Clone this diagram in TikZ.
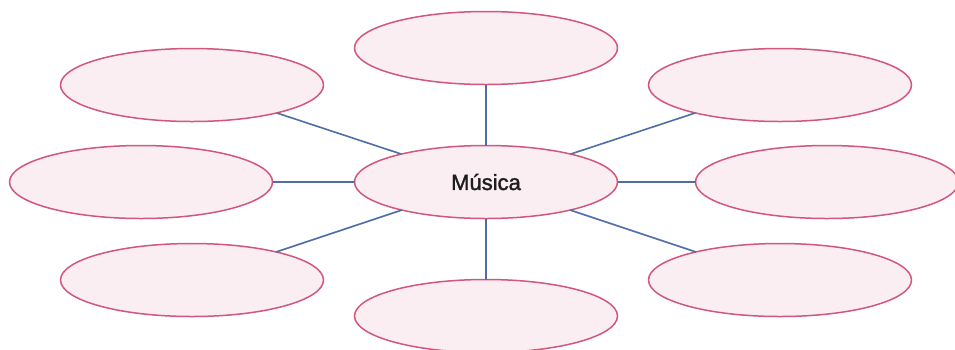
\documentclass[tikz,border=0pt]{standalone}
\usepackage{fontspec}
\setmainfont{Liberation Sans}
\newfontfamily\medfont[FakeBold=1.6]{Liberation Sans}
\usetikzlibrary{shapes.geometric}
\definecolor{ringred}{HTML}{D2577A}
\definecolor{ringfill}{HTML}{FBEEF2}
\definecolor{linkblue}{HTML}{4F6EA8}
\tikzset{
  bubble/.style={ellipse, draw=ringred, fill=ringfill, line width=1.5pt,
    minimum width=263pt, minimum height=73pt, inner sep=0pt, outer sep=0pt},
  link/.style={draw=linkblue, line width=1.6pt}
}
\begin{document}
\begin{tikzpicture}[x=1pt,y=-1pt]
\useasboundingbox (0,0) rectangle (955,349);
\fill[white] (0,0) rectangle (955,349);
\node[bubble] (c) at (486,182) {\medfont\fontsize{22}{24}\selectfont\color[HTML]{1E1E1E}Música};
\node[bubble] (t) at (486,48) {};
\node[bubble] (b) at (486,316) {};
\node[bubble] (tl) at (192,85) {};
\node[bubble] (l) at (141,182) {};
\node[bubble] (bl) at (192,280) {};
\node[bubble] (tr) at (780,85) {};
\node[bubble] (r) at (827,182) {};
\node[bubble] (br) at (780,280) {};
\draw[link] (c) -- (t);
\draw[link] (c) -- (b);
\draw[link] (c) -- (tl);
\draw[link] (c) -- (l);
\draw[link] (c) -- (bl);
\draw[link] (c) -- (tr);
\draw[link] (c) -- (r);
\draw[link] (c) -- (br);
\end{tikzpicture}
\end{document}
